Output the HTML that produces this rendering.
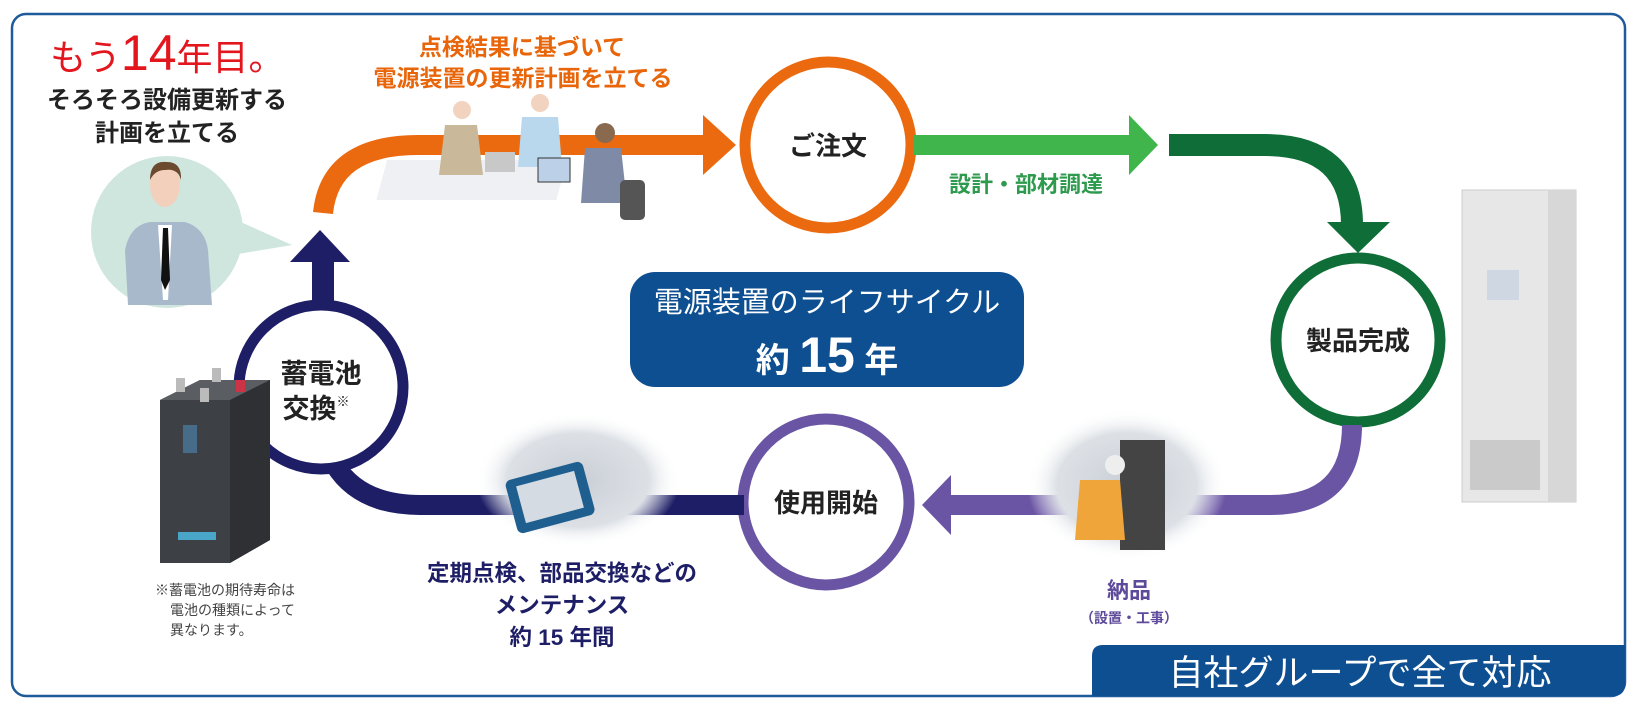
<!DOCTYPE html>
<html><head><meta charset="utf-8">
<style>
html,body{margin:0;padding:0;background:#fff;}
svg{display:block;}
text{font-family:"Liberation Sans","Noto Sans CJK JP",sans-serif;font-weight:bold;}
</style></head><body>
<svg width="1640" height="714" viewBox="0 0 1640 714" xmlns="http://www.w3.org/2000/svg">
<defs>
<radialGradient id="fade" cx="50%" cy="50%" r="50%">
<stop offset="0%" stop-color="#c9ced6"/><stop offset="70%" stop-color="#dde1e6"/><stop offset="100%" stop-color="#fff" stop-opacity="0"/>
</radialGradient>
</defs>
<rect x="12" y="14" width="1613" height="682" rx="14" fill="#fff" stroke="#1f5b9a" stroke-width="2.5"/>

<!-- orange arrow -->
<path d="M323 213 Q330 145 418 145 L706 145" fill="none" stroke="#ec6a0f" stroke-width="20"/>
<polygon points="703,115 736,145 703,175" fill="#ec6a0f"/>
<circle cx="828" cy="145" r="83" fill="#fff" stroke="#ec6a0f" stroke-width="11"/>
<text x="828" y="155" font-size="26" text-anchor="middle" fill="#222">ご注文</text>

<!-- meeting illustration -->
<g>
<rect x="430" y="160" width="180" height="40" fill="#eef0f3" transform="skewX(-15)"/>
<circle cx="462" cy="110" r="9" fill="#f1d3c0"/><path d="M445 125 h32 l6 50 h-44 z" fill="#c9b99a"/>
<circle cx="540" cy="103" r="9" fill="#f1d3c0"/><path d="M522 117 h36 l4 50 h-44 z" fill="#b9d8ee"/>
<circle cx="605" cy="133" r="10" fill="#8a6a4e"/><path d="M585 148 h36 l6 55 h-46 z" fill="#7f8ba6"/>
<rect x="620" y="180" width="25" height="40" rx="5" fill="#555"/>
<rect x="538" y="158" width="32" height="24" fill="#bcd0e8" stroke="#333"/>
<rect x="485" y="152" width="30" height="20" fill="#c8c8c8"/>
</g>

<!-- green arrows -->
<rect x="914" y="135" width="216" height="20" fill="#3fb54c"/>
<polygon points="1129,115 1158,145 1129,175" fill="#3fb54c"/>
<text x="1026" y="192" font-size="22" text-anchor="middle" fill="#2e9a4e">設計・部材調達</text>
<path d="M1169 145 L1265 145 Q1352 145 1352 225" fill="none" stroke="#0f6e38" stroke-width="22"/>
<polygon points="1327,222 1390,222 1358,253" fill="#0f6e38"/>
<circle cx="1358" cy="340" r="82" fill="#fff" stroke="#0f6e38" stroke-width="11"/>
<text x="1358" y="350" font-size="26" text-anchor="middle" fill="#222">製品完成</text>

<!-- cabinet -->
<rect x="1462" y="190" width="114" height="312" fill="#e6e7e6" stroke="#ccc"/>
<rect x="1548" y="190" width="28" height="312" fill="#d6d7d6"/>
<rect x="1487" y="270" width="32" height="30" fill="#cfd8e2"/>
<rect x="1470" y="440" width="70" height="50" fill="#b8b8b8" opacity="0.6"/>

<!-- purple arrow -->
<path d="M1352 425 Q1352 505 1270 505 L951 505" fill="none" stroke="#6a55a4" stroke-width="20"/>
<polygon points="951,475 922,505 951,535" fill="#6a55a4"/>
<rect x="1027" y="410" width="200" height="150" fill="url(#fade)"/>
<rect x="1120" y="440" width="45" height="110" fill="#444"/>
<path d="M1080 480 h40 l5 60 h-50 z" fill="#f0a53a"/>
<circle cx="1115" cy="465" r="10" fill="#eee"/>
<text x="1129" y="598" font-size="22" text-anchor="middle" fill="#5e4a9a">納品</text>
<text x="1129" y="623" font-size="14" text-anchor="middle" fill="#5e4a9a">（設置・工事）</text>

<circle cx="826" cy="502" r="83" fill="#fff" stroke="#6a55a4" stroke-width="11"/>
<text x="826" y="512" font-size="26" text-anchor="middle" fill="#222">使用開始</text>

<!-- navy arrow -->
<path d="M335 465 Q360 505 420 505 L744 505" fill="none" stroke="#1e1e66" stroke-width="20"/>
<rect x="312" y="258" width="22" height="45" fill="#1e1e66"/>
<polygon points="290,262 350,262 320,230" fill="#1e1e66"/>
<circle cx="321" cy="387" r="82" fill="#fff" stroke="#1e1e66" stroke-width="11"/>
<text x="321" y="383" font-size="27" text-anchor="middle" fill="#222">蓄電池</text>
<text x="316" y="418" font-size="27" text-anchor="middle" fill="#222">交換<tspan font-size="13" dy="-12">※</tspan></text>

<!-- maintenance photo -->
<rect x="476" y="413" width="204" height="134" fill="url(#fade)"/>
<rect x="510" y="470" width="80" height="55" rx="6" fill="#1f5f8f" transform="rotate(-15 550 497)"/>
<rect x="520" y="478" width="60" height="38" fill="#d5dbe2" transform="rotate(-15 550 497)"/>
<text x="562" y="581" font-size="22.5" text-anchor="middle" fill="#1e1e66">定期点検、部品交換などの</text>
<text x="562" y="613" font-size="22.5" text-anchor="middle" fill="#1e1e66">メンテナンス</text>
<text x="562" y="645" font-size="22.5" text-anchor="middle" fill="#1e1e66">約 15 年間</text>

<!-- battery -->
<polygon points="160,400 200,380 270,380 270,540 230,563 160,563" fill="#3d4045"/>
<polygon points="160,400 200,380 270,380 230,400" fill="#5a5e63"/>
<polygon points="230,400 270,380 270,540 230,563" fill="#2e3034"/>
<rect x="178" y="532" width="38" height="8" fill="#4aa6c8"/>
<rect x="183" y="425" width="14" height="28" fill="#4c7fa8" opacity="0.7"/>
<rect x="176" y="378" width="9" height="14" fill="#bbb"/><rect x="212" y="368" width="9" height="14" fill="#bbb"/><rect x="200" y="388" width="9" height="14" fill="#bbb"/><rect x="236" y="380" width="9" height="12" fill="#c34"/>
<text x="155" y="595" font-size="14" fill="#444" style="font-weight:normal">※蓄電池の期待寿命は</text>
<text x="170" y="615" font-size="14" fill="#444" style="font-weight:normal">電池の種類によって</text>
<text x="170" y="635" font-size="14" fill="#444" style="font-weight:normal">異なります。</text>

<!-- person -->
<circle cx="167" cy="232" r="76" fill="#cfe6df"/>
<polygon points="225,215 292,245 232,255" fill="#cfe6df"/>
<path d="M125 250 Q130 225 150 222 L185 222 Q205 228 208 250 L212 305 L128 305 Z" fill="#a9b9cc"/>
<polygon points="158,225 172,225 168,300 163,300" fill="#fff"/>
<polygon points="163,228 168,228 170,280 165,290 161,280" fill="#111"/>
<ellipse cx="165" cy="185" rx="15" ry="22" fill="#f2d0bb"/>
<path d="M150 180 Q150 160 167 162 Q182 162 181 180 Q178 168 165 170 Q155 170 150 180" fill="#6b4a30"/>

<!-- headings -->
<text x="50" y="70" font-size="36" fill="#e3161e" style="font-weight:normal">もう<tspan font-size="50">14</tspan>年目。</text>
<text x="167" y="108" font-size="24" text-anchor="middle" fill="#222">そろそろ設備更新する</text>
<text x="167" y="141" font-size="24" text-anchor="middle" fill="#222">計画を立てる</text>
<text x="522" y="55" font-size="23" text-anchor="middle" fill="#e8650a">点検結果に基づいて</text>
<text x="523" y="86" font-size="23" text-anchor="middle" fill="#e8650a">電源装置の更新計画を立てる</text>

<!-- center box -->
<rect x="630" y="272" width="394" height="115" rx="25" fill="#0d4f91"/>
<text x="827" y="312" font-size="29" text-anchor="middle" fill="#fff" style="font-weight:normal">電源装置のライフサイクル</text>
<text x="827" y="372" font-size="34" text-anchor="middle" fill="#fff">約 <tspan font-size="50">15</tspan> 年</text>

<!-- bottom right box -->
<path d="M1092 696 L1092 656 Q1092 645 1103 645 L1625 645 L1625 684 Q1625 696 1613 696 Z" fill="#0d4f91"/>
<text x="1360" y="685" font-size="35" text-anchor="middle" fill="#fff" style="font-weight:normal">自社グループで全て対応</text>
</svg>
</body></html>
